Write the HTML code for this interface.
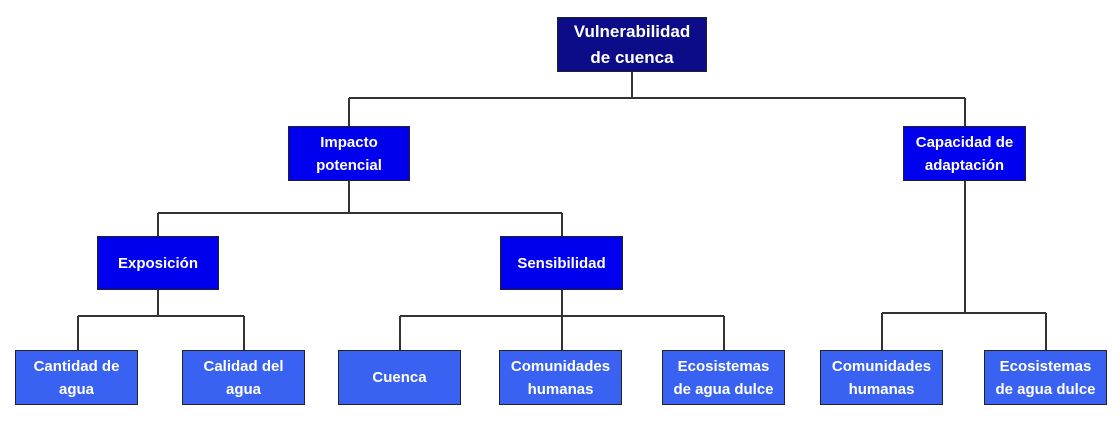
<!DOCTYPE html>
<html><head><style>
body{margin:0;width:1120px;height:423px;background:#fff;position:relative;overflow:hidden;font-family:"Liberation Sans",sans-serif}
.b{position:absolute;display:flex;align-items:center;justify-content:center;text-align:center;color:#fff;font-weight:bold;font-size:15px;line-height:23px;box-sizing:border-box;border:1px solid #222}
.t{background:#0c0c88;font-size:17px;line-height:26px}
.m{background:#0000ee}
.l{background:#3a62f2}
svg{position:absolute;left:0;top:0}
</style></head><body>
<svg width="1120" height="423"><g stroke="#333" stroke-width="2" fill="none">
<path d="M632 72V98M349 98H965M349 98V126M965 98V126"/>
<path d="M349 181V213M158 213H562M158 213V236M562 213V236"/>
<path d="M158 290V316M78 316H244M78 316V350M244 316V350"/>
<path d="M562 290V316M400 316H724M400 316V350M562 316V350M724 316V350"/>
<path d="M965 181V313M882 313H1046M882 313V350M1046 313V350"/>
</g></svg>
<div class="b t" style="left:557px;top:17px;width:150px;height:55px">Vulnerabilidad<br>de cuenca</div>
<div class="b m" style="left:288px;top:126px;width:122px;height:55px">Impacto<br>potencial</div>
<div class="b m" style="left:903px;top:126px;width:123px;height:55px">Capacidad de<br>adaptación</div>
<div class="b m" style="left:97px;top:236px;width:122px;height:54px">Exposición</div>
<div class="b m" style="left:500px;top:236px;width:123px;height:54px">Sensibilidad</div>
<div class="b l" style="left:15px;top:350px;width:123px;height:55px">Cantidad de<br>agua</div>
<div class="b l" style="left:182px;top:350px;width:123px;height:55px">Calidad del<br>agua</div>
<div class="b l" style="left:338px;top:350px;width:123px;height:55px">Cuenca</div>
<div class="b l" style="left:499px;top:350px;width:123px;height:55px">Comunidades<br>humanas</div>
<div class="b l" style="left:662px;top:350px;width:123px;height:55px">Ecosistemas<br>de agua dulce</div>
<div class="b l" style="left:820px;top:350px;width:123px;height:55px">Comunidades<br>humanas</div>
<div class="b l" style="left:984px;top:350px;width:123px;height:55px">Ecosistemas<br>de agua dulce</div>
</body></html>
